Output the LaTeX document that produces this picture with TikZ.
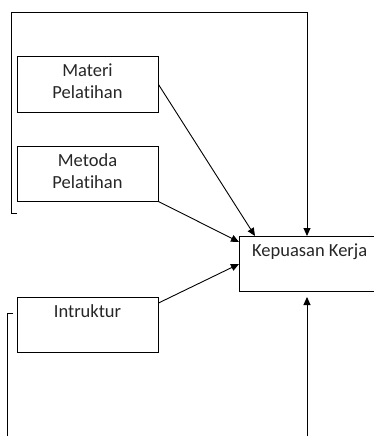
\documentclass[tikz,border=0pt]{standalone}
\usepackage{fontspec}
\setmainfont{Carlito}[Ligatures={NoCommon}]
\usetikzlibrary{arrows.meta}
\begin{document}
\begin{tikzpicture}[x=1pt,y=-1pt,
  box/.style={draw, line width=1pt, minimum width=141pt, minimum height=55pt, inner sep=0pt},
  lbl/.style={anchor=north, align=center, font=\fontsize{18.5}{22}\selectfont, text=black!85, inner sep=0pt},
  conn/.style={line width=0.9pt, -{Triangle[length=8pt,width=7pt]}},
  plain/.style={line width=1pt}]
\useasboundingbox (0,0) rectangle (374,436);
\clip (0,0) rectangle (374,436);
\node[box] (materi) at (87.5,84.5) {};
\node[box] (metoda) at (87.5,173.5) {};
\node[box] (intr) at (87.5,324.5) {};
\node[box] (kep) at (309.5,264) {};
\node[lbl] (tmateri) at (87.5,64) {Materi\\Pelatihan};
\node[lbl] (tmetoda) at (87.5,153) {Metoda\\Pelatihan};
\node[lbl] (tintr) at (87.5,304) {Intruktur};
\node[lbl, anchor=north west] (tkep) at (252,244) {Kepuasan Kerja};
% connectors
\coordinate (kt1) at (255,236);
\coordinate (kl1) at (239,242);
\coordinate (kl2) at (239,264);
\coordinate (ktop) at (307,236);
\coordinate (kbot) at (307,292);
\coordinate (topA) at (17,213);
\coordinate (botA) at (13,313);
\coordinate (botEnd) at (7,437);
\coordinate (rbot) at (307,437);
\draw[conn] (materi.east) -- (kt1);
\draw[conn] (metoda.south east) -- (kl1);
\draw[conn] ([yshift=21.5pt]intr.east) -- (kl2);
\draw[conn] (topA) -- (11,213) -- (11,12) -- (307,12) -- (ktop);
\draw[conn] (rbot) -- ([yshift=-5pt]kbot);
\draw[plain] (botA) -- (7,313) -- (botEnd);
\end{tikzpicture}
\end{document}
